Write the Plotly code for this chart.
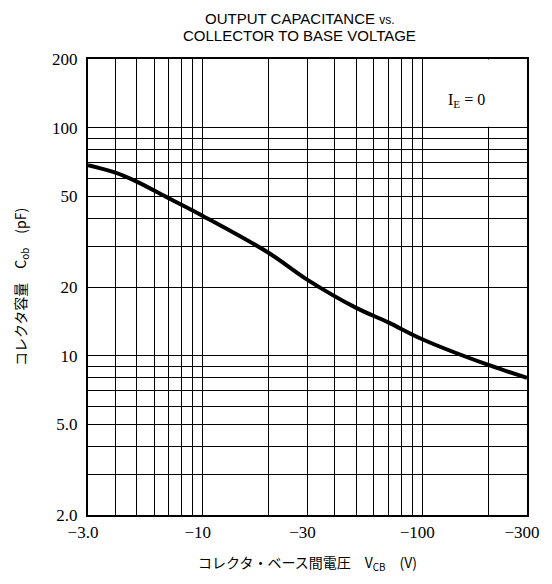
import math
import plotly.graph_objects as go

# Collector-to-base voltage magnitude |V_CB| (V) and output capacitance C_ob (pF)
vcb_abs = [3, 4, 5, 7, 10, 20, 30, 50, 70, 100, 200, 300]
cob_pf = [68.5, 63.5, 58.0, 49.0, 41.0, 28.2, 21.5, 16.2, 14.0, 11.8, 9.1, 8.0]

x_tick_vals = [3, 10, 30, 100, 300]
x_tick_text = ["\u22123.0", "\u221210", "\u221230", "\u2212100", "\u2212300"]
x_minor_vals = [4, 5, 6, 7, 8, 9, 20, 40, 50, 60, 70, 80, 90, 200]

y_tick_vals = [2, 5, 10, 20, 50, 100, 200]
y_tick_text = ["2.0", "5.0", "10", "20", "50", "100", "200"]
y_minor_vals = [3, 4, 6, 7, 8, 9, 30, 40, 60, 70, 80, 90]

title_lines = ["OUTPUT CAPACITANCE <span style=\"font-size:12px\">vs.</span>",
               "COLLECTOR TO BASE VOLTAGE"]

serif = "Liberation Serif"
jp = "Noto Sans CJK JP"
eps = 1e-6

fig = go.Figure()
fig.add_trace(go.Scatter(
    x=vcb_abs, y=cob_pf, mode="lines",
    line=dict(color="black", width=4, shape="spline", smoothing=1.0),
    showlegend=False, hoverinfo="skip",
))

# blank area behind the I_E = 0 note (no grid there in the original)
fig.add_shape(type="rect", xref="x", yref="y", x0=150, x1=280, y0=101, y1=199,
              fillcolor="white", line=dict(width=0), layer="between")

fig.add_annotation(x=2.2, y=2.12, xref="x", yref="y", text="I<sub>E</sub> = 0",
                   showarrow=False, font=dict(family=serif, size=16, color="black"))

for line_text, shift in zip(title_lines, [41, 24]):
    fig.add_annotation(x=0.4825, y=1, xref="paper", yref="paper",
                       xanchor="center", yanchor="middle", yshift=shift,
                       text=line_text, showarrow=False,
                       font=dict(family="Liberation Sans", size=15, color="black"))

fig.update_layout(
    width=544, height=576,
    margin=dict(l=71, r=15, t=51, b=69),
    paper_bgcolor="white", plot_bgcolor="white",
    xaxis=dict(
        type="log",
        range=[math.log10(x_tick_vals[0]) - eps, math.log10(x_tick_vals[-1]) + eps],
        tickmode="array", tickvals=x_tick_vals, ticktext=x_tick_text,
        ticks="", ticklabelstandoff=1, ticklabelshift=-5, ticklabeloverflow="allow",
        tickfont=dict(family=serif, size=17, color="black"),
        showgrid=True, gridcolor="black", gridwidth=1,
        showline=True, mirror=True, linecolor="black", linewidth=2,
        zeroline=False,
        minor=dict(tickmode="array", tickvals=x_minor_vals, showgrid=True,
                   gridcolor="black", gridwidth=1, ticks=""),
        title=dict(text="コレクタ・ベース間電圧　V<sub>CB</sub>　(V)",
                   font=dict(family=jp, size=14, color="black"), standoff=17),
    ),
    yaxis=dict(
        type="log",
        range=[math.log10(y_tick_vals[0]) - eps, math.log10(y_tick_vals[-1]) + eps],
        tickmode="array", tickvals=y_tick_vals, ticktext=y_tick_text,
        ticks="", ticklabelstandoff=5,
        tickfont=dict(family=serif, size=17, color="black"),
        showgrid=True, gridcolor="black", gridwidth=1,
        showline=True, mirror=True, linecolor="black", linewidth=2,
        zeroline=False,
        minor=dict(tickmode="array", tickvals=y_minor_vals, showgrid=True,
                   gridcolor="black", gridwidth=1, ticks=""),
        title=dict(text="コレクタ容量　C<sub>ob</sub>　(pF)",
                   font=dict(family=jp, size=14, color="black"), standoff=22),
    ),
)

fig.write_html("out.html")
